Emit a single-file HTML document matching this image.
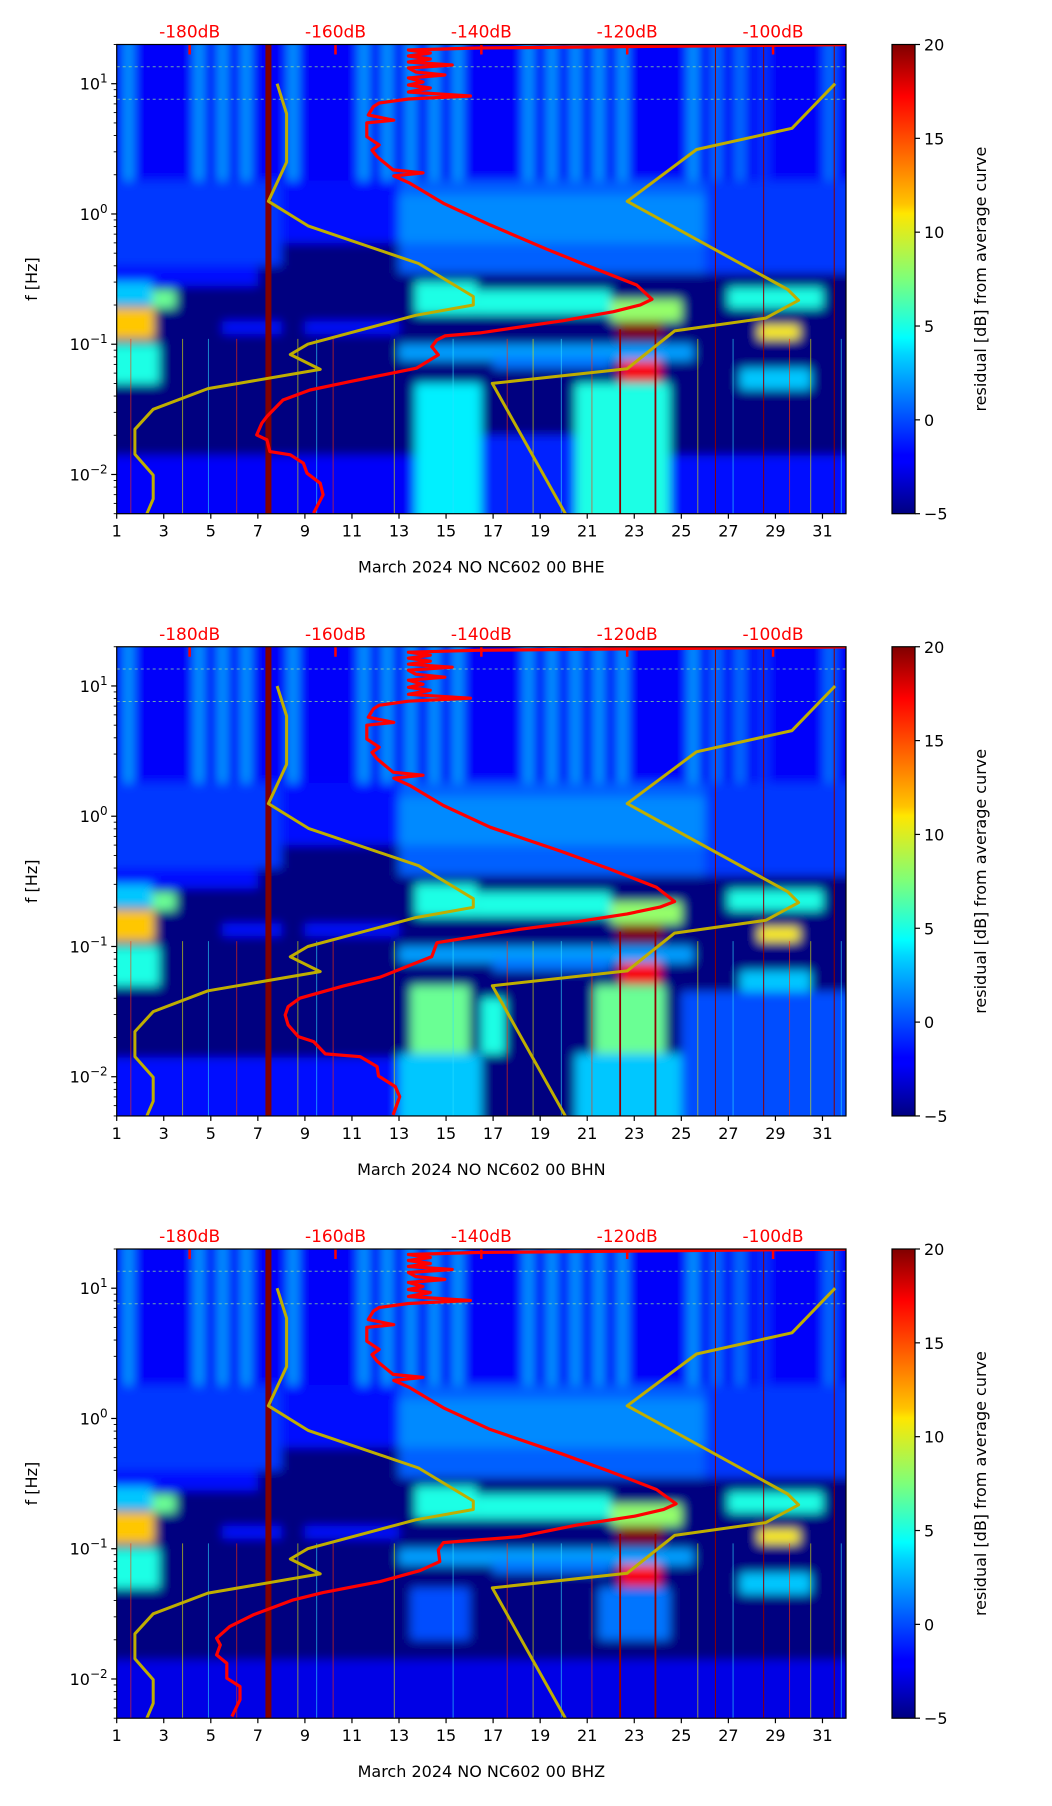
<!DOCTYPE html>
<html><head><meta charset="utf-8">
<style>
html,body{margin:0;padding:0;background:#fff;}
svg{display:block;font-family:"DejaVu Sans","Liberation Sans",sans-serif;}
</style></head>
<body>
<svg id="fig" xmlns="http://www.w3.org/2000/svg" width="1052" height="1806" viewBox="0 0 1052 1806">
<defs>
<filter id="blur" x="-5%" y="-5%" width="110%" height="110%"><feGaussianBlur stdDeviation="5"/></filter>
<linearGradient id="jet" x1="0" y1="1" x2="0" y2="0">
<stop offset="0" stop-color="#000080"/><stop offset="0.11" stop-color="#0000ff"/><stop offset="0.125" stop-color="#0000ff"/>
<stop offset="0.34" stop-color="#00d4ff"/><stop offset="0.375" stop-color="#00ffff"/><stop offset="0.5" stop-color="#7dff7a"/>
<stop offset="0.64" stop-color="#ffe600"/><stop offset="0.66" stop-color="#ffc400"/><stop offset="0.89" stop-color="#ff0000"/><stop offset="1" stop-color="#800000"/>
</linearGradient>
</defs>
</svg>
<script>
// ---------- data ----------
const panelTitles = ["March 2024 NO NC602 00 BHE","March 2024 NO NC602 00 BHN","March 2024 NO NC602 00 BHZ"];
const dayTicks = [1,3,5,7,9,11,13,15,17,19,21,23,25,27,29,31];
const dbTicks = [-180,-160,-140,-120,-100];
const yDecades = [1,0,-1,-2];
const cbTicks = [20,15,10,5,0,-5];
// Peterson models (period s, dB)
const nlnmPeriod = [0.1,0.17,0.4,0.8,1.24,2.4,4.3,5,6,10,12,15.6,21.9,31.6,45,70,101,154,328];
const nlnmDb = [-168,-166.7,-166.7,-169.2,-163.7,-148.6,-141.1,-141.1,-149,-163.8,-166.2,-162.1,-177.5,-185,-187.5,-187.5,-185,-185,-187.5];
const nhnmPeriod = [0.1,0.22,0.32,0.8,3.8,4.6,6.3,7.9,15.4,20,354.8];
const nhnmDb = [-91.5,-97.4,-110.5,-120,-98,-96.5,-101,-113.5,-120,-138.5,-126];
// mean PSD curves (log10 f, dB)
const topLogF = [1.30,1.274,1.259,1.236,1.213,1.190,1.167,1.144,1.121,1.090,1.067,1.044,1.013,0.990,0.967,0.936,0.906,0.883,0.852,0.824,0.760,0.72,0.699,0.593,0.53,0.49,0.440,0.338,0.315,0.292,0.236,0.082,-0.084];
const topDb = [-90,-140.6,-150,-147,-150,-147,-150,-144,-150,-149,-145,-150,-148,-150,-147,-150,-141.5,-150,-154,-154.8,-155.5,-152,-155.7,-155.7,-154,-155,-154.3,-152.1,-148,-152,-149.8,-145.2,-138.8];
const psdLogF1 = [-0.271,-0.404,-0.545,-0.655,-0.698,-0.750,-0.819,-0.913,-0.936,-0.967,-1.018,-1.082,-1.184,-1.287,-1.351,-1.428,-1.555,-1.606,-1.696,-1.734,-1.824,-1.849,-1.913,-1.990,-2.067,-2.156,-2.297];
const psdDb1 = [-131,-125.1,-118.7,-116.6,-118.2,-121.9,-128.8,-140.2,-145,-146.1,-146.8,-145.9,-148.9,-158,-163.5,-167.2,-169.4,-170.1,-170.8,-169.4,-169,-166.2,-164.4,-163.9,-162.1,-161.7,-163];
const psdLogF2 = [-0.271,-0.404,-0.545,-0.655,-0.698,-0.75,-0.819,-0.868,-0.971,-1.078,-1.236,-1.303,-1.397,-1.462,-1.526,-1.602,-1.692,-1.730,-1.825,-1.846,-1.922,-1.994,-2.076,-2.153,-2.293];
const psdDb2 = [-129,-122.5,-116,-113.5,-115.5,-120,-128,-134.7,-146.1,-146.8,-153.9,-158.9,-164.9,-166.5,-166.9,-166.5,-165.1,-163,-161.4,-156.6,-154.3,-154.1,-151.8,-151.2,-152.1];
const psdLogF3 = [-0.271,-0.404,-0.545,-0.655,-0.698,-0.75,-0.819,-0.907,-0.953,-1.009,-1.099,-1.168,-1.252,-1.337,-1.393,-1.508,-1.598,-1.687,-1.738,-1.815,-1.879,-1.994,-2.058,-2.160,-2.289];
const psdDb3 = [-129,-122.5,-116,-113.3,-115,-119,-127,-134.7,-145.2,-145.9,-145.7,-148.4,-153.9,-161.7,-165.8,-171.3,-174.5,-176.3,-175.8,-176.3,-174.9,-174.9,-173.1,-173.1,-174.2];
// spectrogram residual patches: [dayStart, dayEnd, fLow, fHigh, residual dB]
const basePatches = [
 [1,32,0.005,20,-5],[1,32,1.8,20,-2],
 [1,8,0.4,1.8,-0.5],[8,13,0.6,1.8,-1.5],[13,26,0.35,1.8,0.5],[13,26,0.6,1.4,1.5],[26,32,0.35,1.8,-0.5],[1,7,0.28,0.4,-1.5],
 [1.3,1.7,1.8,20,2],[4.3,4.7,1.8,20,2],[5.3,5.7,1.8,20,2],[6.3,6.7,1.8,20,2],[8.3,8.7,1.8,20,2],
 [11.3,11.7,1.8,20,2],[12.3,12.7,1.8,20,2],[13.3,13.7,1.8,20,2],[14.3,14.7,1.8,20,2],[15.3,15.7,1.8,20,2],
 [18.3,18.7,1.8,20,2],[19.3,19.7,1.8,20,2],[20.3,20.7,1.8,20,2],[21.3,21.7,1.8,20,2],[22.3,22.7,1.8,20,2],
 [25.3,25.7,1.8,20,2],[26.3,26.7,1.8,20,1],[27.3,27.7,1.8,20,1],[28.3,28.7,1.8,20,-0.5],[31.1,31.5,1.8,20,1],
 [1,2.5,0.2,0.3,3],[2.5,3.5,0.19,0.26,7],[1,2.6,0.11,0.19,12],[1,2.8,0.05,0.1,5],
 [5.5,8,0.12,0.15,-1.5],[9,13,0.12,0.15,-1.5],[13,25.5,0.075,0.1,2],[17,22,0.065,0.08,1],
 [13.7,16.3,0.17,0.3,5],[16.3,22,0.17,0.26,5],[22,25,0.15,0.22,8],
 [22.3,24.2,0.11,0.15,20],[22.4,24.1,0.052,0.075,17],
 [27,31,0.19,0.27,5],[28.3,30,0.11,0.14,11],[27.5,30.5,0.045,0.065,3]
];
const lowPatches1 = [[1,13.7,0.005,0.014,-2],[13.7,16.5,0.005,0.05,4],[16.5,20.5,0.005,0.02,-1],[20.5,24.5,0.005,0.05,5],[24.5,32,0.005,0.014,-1.5]];
const lowPatches2 = [[1,13,0.005,0.014,-1.5],[13.5,16,0.015,0.05,7],[13,16.5,0.005,0.015,3],[16.5,17.5,0.015,0.04,5],[21.3,24.3,0.015,0.05,7],[20.5,25,0.005,0.015,3],[25,32,0.005,0.045,0]];
const lowPatches3 = [[1,32,0.005,0.014,-2.5],[13.5,16,0.02,0.05,0],[21.5,24.5,0.02,0.05,1]];
const eventDays = [1.6,3.8,4.9,6.1,8.7,9.5,10.2,12.8,15.3,17.6,18.7,19.9,21.2,25.7,27.2,29.6,30.5,31.8];
const gapDays = [26.45,28.5,31.5];
const quakeDays = [22.4,23.9];
const thickGapDay = 7.45;
const toneFreqs = [13.5,7.6];

// ---------- geometry ----------
const X0=116.7, X1=846, Y0=44.5, Y1=513.7;
const offsets=[0,602.25,1204.5];
const CB0=892, CB1=915;
const NS="http://www.w3.org/2000/svg";
const svg=document.getElementById('fig');
function dayX(d){return X0+(d-1)/31*(X1-X0);}
function lfY(lf,off){return off+Y0+(Math.log10(20)-lf)/(Math.log10(20)-Math.log10(0.005))*(Y1-Y0);}
function fY(f,off){return lfY(Math.log10(f),off);}
function dbX(db){return X0+(db+190)/100*(X1-X0);}
function cbY(v,off){return off+Y0+(20-v)/25*(Y1-Y0);}
function jet(v){
  let t=Math.max(0,Math.min(1,(v+5)/25));
  const c=x=>Math.round(255*Math.max(0,Math.min(1,x)));
  return `rgb(${c(1.5-Math.abs(4*t-3))},${c(1.5-Math.abs(4*t-2))},${c(1.5-Math.abs(4*t-1))})`;
}
function mk(tag,parent){const e=document.createElementNS(NS,tag);parent.appendChild(e);return e;}
function txt(parent,x,y,s,size,fill,anchor){
  const t=mk('text',parent);t.setAttribute('x',x);t.setAttribute('y',y);
  t.setAttribute('font-size',size);t.setAttribute('fill',fill);t.setAttribute('text-anchor',anchor);t.textContent=s;return t;
}
function poly(parent,xs,ys,color,w){
  const p=mk('polyline',parent);
  p.setAttribute('points',xs.map((x,i)=>x.toFixed(1)+','+ys[i].toFixed(1)).join(' '));
  p.setAttribute('fill','none');p.setAttribute('stroke',color);p.setAttribute('stroke-width',w);
  p.setAttribute('stroke-linejoin','round');return p;
}

const lowSets=[lowPatches1,lowPatches2,lowPatches3];
const psdF=[psdLogF1,psdLogF2,psdLogF3];
const psdD=[psdDb1,psdDb2,psdDb3];

offsets.forEach((off,pi)=>{
  const g=mk('g',svg);
  
  
  const cp=mk('clipPath',g);cp.setAttribute('id','clip'+pi);
  const cr=mk('rect',cp);cr.setAttribute('x',X0);cr.setAttribute('y',off+Y0);cr.setAttribute('width',X1-X0);cr.setAttribute('height',Y1-Y0);
  const plot=mk('g',g);plot.setAttribute('clip-path','url(#clip'+pi+')');
  
  
  const hm=mk('g',plot);hm.setAttribute('filter','url(#blur)');
  
  
  basePatches.concat(lowSets[pi]).forEach(p=>{
    const r=mk('rect',hm);
    
    
    const x=dayX(p[0]),x2=dayX(p[1]),y=fY(p[3],off),y2=fY(p[2],off);
    r.setAttribute('x',x-(p[0]<=1?12:0));r.setAttribute('y',y-(p[3]>=20?12:0));
    r.setAttribute('width',x2-x+(p[0]<=1?12:0)+(p[1]>=32?12:0));r.setAttribute('height',y2-y+(p[3]>=20?12:0)+(p[2]<=0.005?12:0));
    r.setAttribute('fill',jet(p[4]));
  });
  toneFreqs.forEach(f=>{
    const l=mk('line',plot);
    
    
    l.setAttribute('x1',X0);l.setAttribute('x2',X1);l.setAttribute('y1',fY(f,off));l.setAttribute('y2',fY(f,off));
    l.setAttribute('stroke','#9ee890');l.setAttribute('stroke-width',1);l.setAttribute('stroke-dasharray','3 3');l.setAttribute('opacity','0.7');
  });
  eventDays.forEach((d,i)=>{
    const l=mk('line',plot);
    
    
    l.setAttribute('x1',dayX(d));l.setAttribute('x2',dayX(d));l.setAttribute('y1',fY(0.11,off));l.setAttribute('y2',off+Y1);
    l.setAttribute('stroke',i%3===0?'#ff3000':(i%3===1?'#e8f000':'#30e0ff'));l.setAttribute('stroke-width',1);l.setAttribute('opacity','0.6');
  });
  gapDays.forEach(d=>{
    const l=mk('line',plot);
    
    
    l.setAttribute('x1',dayX(d));l.setAttribute('x2',dayX(d));l.setAttribute('y1',off+Y0);l.setAttribute('y2',off+Y1);
    l.setAttribute('stroke','#8b0000');l.setAttribute('stroke-width',1);
  });
  quakeDays.forEach(d=>{
    const l=mk('line',plot);
    
    
    l.setAttribute('x1',dayX(d));l.setAttribute('x2',dayX(d));l.setAttribute('y1',fY(0.13,off));l.setAttribute('y2',off+Y1);
    l.setAttribute('stroke','#900000');l.setAttribute('stroke-width',1.8);
  });
  const tg=mk('rect',plot);
  
  
  tg.setAttribute('x',dayX(thickGapDay)-3);tg.setAttribute('y',off+Y0);tg.setAttribute('width',6);tg.setAttribute('height',Y1-Y0);tg.setAttribute('fill','#800000');
  const lo=poly(plot,nlnmDb.map(dbX),nlnmPeriod.map(T=>lfY(-Math.log10(T),off)),'#bfae00',3);
  
  
  const hi=poly(plot,nhnmDb.map(dbX),nhnmPeriod.map(T=>lfY(-Math.log10(T),off)),'#bfae00',3);
  
  
  const lf=topLogF.concat(psdF[pi]), db=topDb.concat(psdD[pi]);
  const pc=poly(plot,[dbX(-90)+20].concat(db.map(dbX)),[lfY(topLogF[0],off)].concat(lf.map(v=>lfY(v,off))),'#ff0000',3.2);
  
  
  dbTicks.forEach(v=>{
    const t=mk('line',g);
    
    
    t.setAttribute('x1',dbX(v));t.setAttribute('x2',dbX(v));t.setAttribute('y1',off+Y0);t.setAttribute('y2',off+Y0+10);
    t.setAttribute('stroke','#ff0000');t.setAttribute('stroke-width',2.5);
    const l=txt(g,dbX(v),off+Y0-7,v+'dB',17,'#ff0000','middle');
    
    
  });
  const fr=mk('rect',g);
  
  
  fr.setAttribute('x',X0);fr.setAttribute('y',off+Y0);fr.setAttribute('width',X1-X0);fr.setAttribute('height',Y1-Y0);
  fr.setAttribute('fill','none');fr.setAttribute('stroke','#000');fr.setAttribute('stroke-width',1.2);
  dayTicks.forEach(d=>{
    const t=mk('line',g);
    
    
    t.setAttribute('x1',dayX(d));t.setAttribute('x2',dayX(d));t.setAttribute('y1',off+Y1);t.setAttribute('y2',off+Y1+5);
    t.setAttribute('stroke','#000');t.setAttribute('stroke-width',1.2);
    const l=txt(g,dayX(d),off+Y1+23,String(d),16,'#000','middle');
    
    
  });
  const xl=txt(g,(X0+X1)/2,off+Y1+59,panelTitles[pi],16,'#000','middle');
  
  
  for(let e=-3;e<=1;e++){
    for(let m=1;m<10;m++){
      const f=m*Math.pow(10,e);
      if(f<0.005||f>20)continue;
      const t=mk('line',g);
      
      
      t.setAttribute('x1',X0);t.setAttribute('x2',X0-(m===1?5.5:3));t.setAttribute('y1',fY(f,off));t.setAttribute('y2',fY(f,off));
      t.setAttribute('stroke','#000');t.setAttribute('stroke-width',m===1?1.2:0.9);
    }
  }
  yDecades.forEach(e=>{
    const y=lfY(e,off);
    const t=txt(g,X0-9,y+6,'',16,'#000','end');
    
    
    const b=mk('tspan',t);b.textContent='10';
    const s=mk('tspan',t);s.setAttribute('font-size',12);s.setAttribute('dy',-7);s.textContent=(e<0?'\u2212':'')+Math.abs(e);
  });
  const yl=txt(g,0,0,'f [Hz]',16,'#000','middle');
  yl.setAttribute('transform',`translate(37,${off+(Y0+Y1)/2}) rotate(-90)`);
  
  
  const cb=mk('rect',g);
  
  
  cb.setAttribute('x',CB0);cb.setAttribute('y',off+Y0);cb.setAttribute('width',CB1-CB0);cb.setAttribute('height',Y1-Y0);
  cb.setAttribute('fill','url(#jet)');cb.setAttribute('stroke','#000');cb.setAttribute('stroke-width',1.2);
  cbTicks.forEach(v=>{
    const t=mk('line',g);
    
    
    t.setAttribute('x1',CB1);t.setAttribute('x2',CB1+5);t.setAttribute('y1',cbY(v,off));t.setAttribute('y2',cbY(v,off));
    t.setAttribute('stroke','#000');t.setAttribute('stroke-width',1.2);
    const l=txt(g,CB1+9,cbY(v,off)+6,v<0?'\u2212'+Math.abs(v):String(v),16,'#000','start');
    
    
  });
  const cl=txt(g,0,0,'residual [dB] from average curve',16,'#000','middle');
  cl.setAttribute('transform',`translate(986,${off+(Y0+Y1)/2}) rotate(-90)`);
  
  
});
</script>
</body></html>
